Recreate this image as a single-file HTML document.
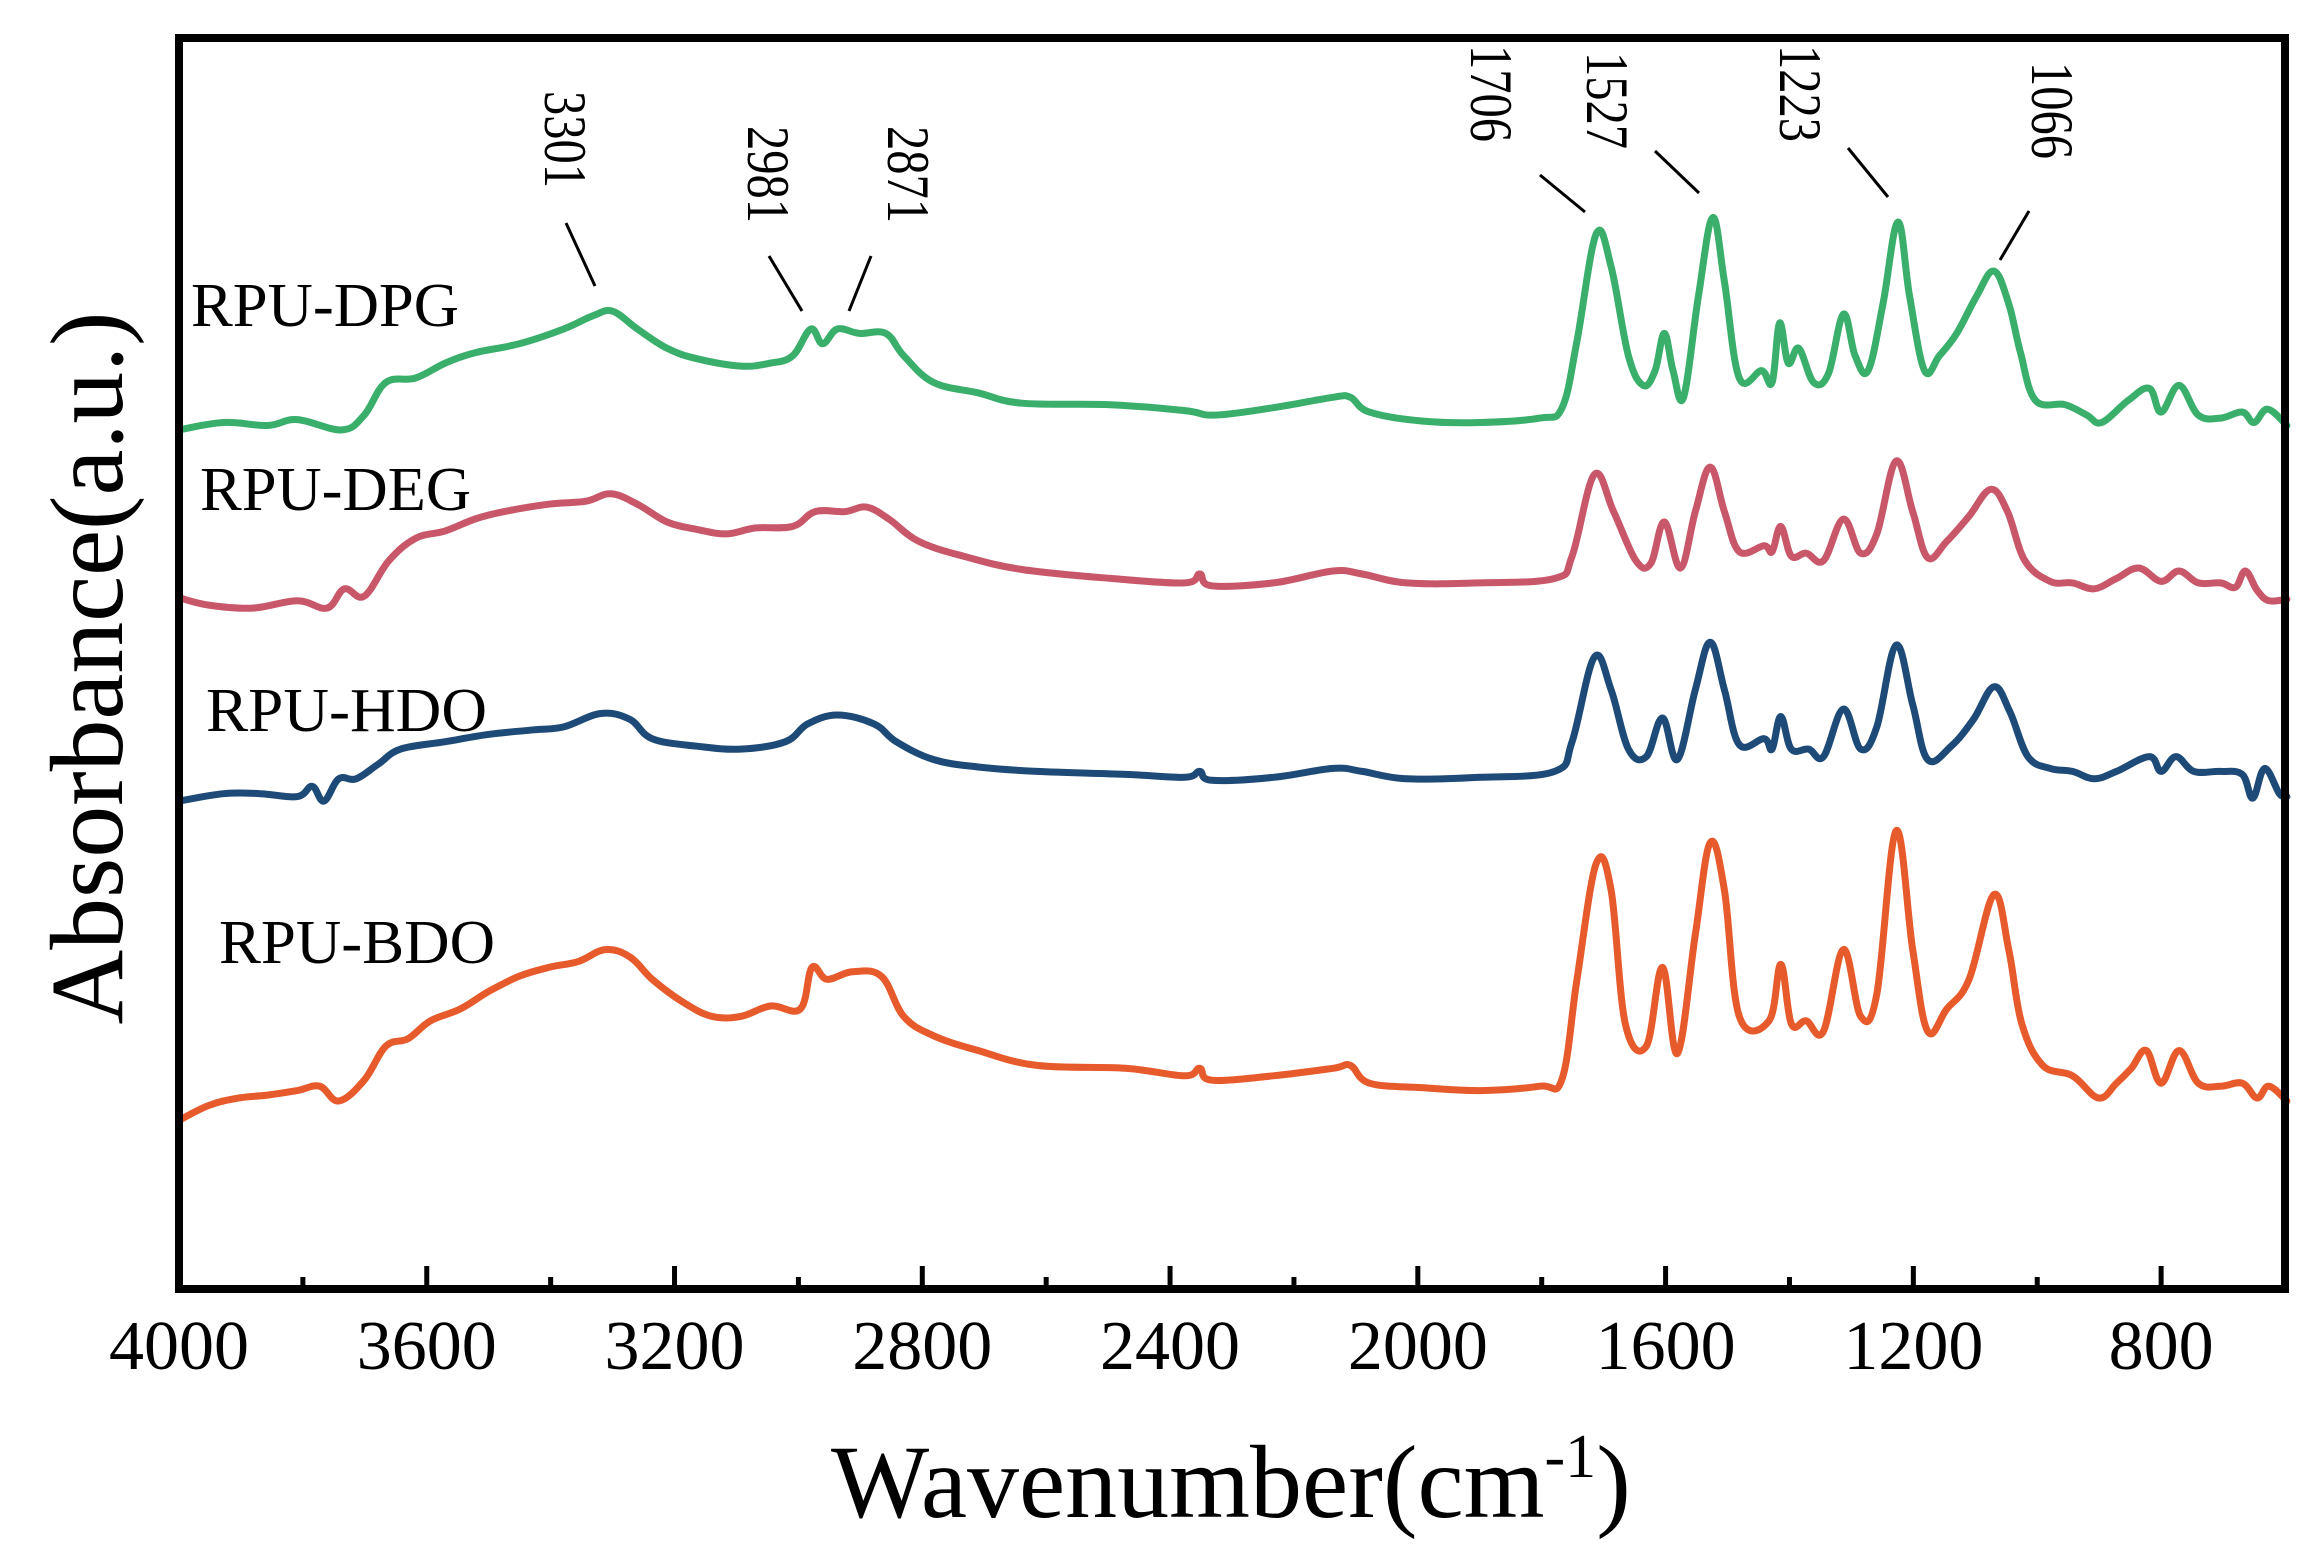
<!DOCTYPE html>
<html><head><meta charset="utf-8">
<style>
html,body{margin:0;padding:0;background:#fff;}
svg{display:block;}
text{font-family:"Liberation Serif","Times New Roman",serif;fill:#000;}
</style></head>
<body>
<svg id="chart" width="2315" height="1564" viewBox="0 0 2315 1564" xmlns="http://www.w3.org/2000/svg">
  <g id="series-layer"></g>
  <rect x="179" y="38" width="2106" height="1251" fill="none" stroke="#000" stroke-width="8"/>
  <g id="tick-layer"></g>
  <text x="831" y="1517" font-size="104">Wavenumber(cm<tspan dy="-40" font-size="62">-1</tspan><tspan dy="40">)</tspan></text>
  <text transform="translate(122,668) rotate(-90)" text-anchor="middle" font-size="104" textLength="713" lengthAdjust="spacingAndGlyphs">Absorbance(a.u.)</text>
  <text x="191" y="326" font-size="62" textLength="268" lengthAdjust="spacingAndGlyphs">RPU-DPG</text>
  <text x="200" y="510" font-size="62" textLength="271" lengthAdjust="spacingAndGlyphs">RPU-DEG</text>
  <text x="206" y="731" font-size="62" textLength="281" lengthAdjust="spacingAndGlyphs">RPU-HDO</text>
  <text x="219" y="963" font-size="62" textLength="276" lengthAdjust="spacingAndGlyphs">RPU-BDO</text>
  <g id="annot-layer"></g>
</svg>
<script>
// ---- axis data ----
const xTicks = [4000, 3600, 3200, 2800, 2400, 2000, 1600, 1200, 800];
const xMinorTicks = [3800, 3400, 3000, 2600, 2200, 1800, 1400, 1000];
const xDomain = [4000, 600];
const yDomain = [0, 8.46];

// ---- series data ----
const dpgWn = [4000,3928,3857,3809,3737,3701,3666,3618,3570,3522,3451,3379,3331,3300,3260,3212,3164,3093,3045,3009,2980,2961,2937,2902,2859,2830,2782,2710,2639,2496,2376,2328,2233,2137,2109,2078,1994,1899,1803,1767,1743,1712,1688,1660,1636,1617,1602,1588,1571,1547,1524,1505,1481,1445,1428,1416,1402,1385,1361,1337,1313,1294,1273,1249,1225,1206,1182,1158,1130,1098,1070,1046,1027,1003,955,920,896,853,819,800,771,740,704,669,650,628,597];
const dpgAbs = [5.82,5.87,5.85,5.89,5.82,5.92,6.14,6.17,6.27,6.34,6.40,6.50,6.59,6.62,6.50,6.37,6.30,6.25,6.27,6.32,6.50,6.40,6.50,6.47,6.47,6.32,6.14,6.07,6.00,5.99,5.95,5.92,5.97,6.04,6.04,5.94,5.88,5.87,5.90,5.97,6.42,7.14,6.92,6.32,6.12,6.22,6.47,6.22,6.04,6.72,7.25,6.82,6.17,6.22,6.14,6.54,6.27,6.37,6.14,6.20,6.60,6.32,6.22,6.67,7.22,6.72,6.22,6.32,6.47,6.72,6.89,6.67,6.34,6.02,5.99,5.92,5.87,6.02,6.10,5.94,6.12,5.92,5.90,5.94,5.87,5.96,5.85];

const degWn = [4000,3952,3881,3809,3761,3733,3701,3661,3618,3570,3522,3475,3403,3343,3303,3260,3212,3164,3116,3069,3009,2973,2925,2890,2854,2806,2734,2639,2496,2376,2352,2333,2233,2137,2090,2018,1899,1779,1751,1715,1684,1648,1624,1602,1576,1552,1528,1505,1481,1441,1428,1414,1397,1373,1345,1313,1285,1259,1228,1201,1177,1146,1110,1075,1048,1020,979,943,908,872,836,800,771,740,704,680,664,645,626,597];
const degAbs = [4.69,4.64,4.62,4.67,4.62,4.75,4.70,4.94,5.09,5.14,5.22,5.27,5.32,5.34,5.39,5.32,5.20,5.15,5.12,5.16,5.17,5.27,5.27,5.30,5.22,5.07,4.97,4.88,4.82,4.79,4.85,4.77,4.79,4.87,4.85,4.79,4.79,4.82,4.97,5.52,5.27,4.94,4.92,5.20,4.89,5.27,5.57,5.27,5.00,5.04,5.00,5.17,4.97,4.99,4.94,5.22,4.99,5.12,5.61,5.27,4.96,5.07,5.24,5.42,5.27,4.94,4.80,4.79,4.75,4.82,4.89,4.80,4.87,4.79,4.79,4.76,4.87,4.74,4.67,4.68];

const hdoWn = [4000,3928,3869,3809,3785,3766,3742,3714,3678,3642,3570,3499,3427,3379,3319,3272,3236,3164,3093,3021,2985,2937,2878,2842,2782,2710,2615,2472,2376,2352,2333,2233,2137,2090,2018,1899,1779,1751,1715,1688,1660,1631,1605,1581,1552,1528,1505,1481,1441,1428,1414,1397,1369,1345,1313,1285,1259,1228,1201,1177,1139,1103,1070,1044,1015,979,943,908,872,819,800,776,747,704,669,652,633,609,597];
const hdoAbs = [3.32,3.37,3.37,3.35,3.42,3.32,3.47,3.47,3.57,3.67,3.72,3.77,3.80,3.82,3.91,3.87,3.74,3.69,3.67,3.72,3.84,3.90,3.84,3.72,3.60,3.55,3.52,3.50,3.48,3.52,3.46,3.48,3.54,3.52,3.47,3.48,3.52,3.72,4.29,4.07,3.67,3.62,3.88,3.60,4.07,4.39,4.07,3.70,3.74,3.67,3.89,3.67,3.67,3.62,3.94,3.67,3.82,4.37,3.97,3.60,3.69,3.87,4.09,3.92,3.62,3.54,3.52,3.47,3.52,3.62,3.52,3.62,3.52,3.52,3.50,3.34,3.54,3.37,3.35];

const bdoWn = [4000,3952,3904,3857,3809,3773,3742,3701,3666,3630,3594,3546,3499,3451,3403,3355,3312,3272,3236,3188,3140,3093,3045,2997,2978,2954,2913,2866,2830,2782,2710,2615,2472,2376,2352,2333,2233,2137,2109,2078,1994,1899,1803,1767,1743,1712,1688,1665,1631,1605,1581,1552,1528,1505,1481,1433,1414,1397,1373,1345,1313,1285,1259,1228,1201,1177,1146,1110,1070,1046,1025,991,943,901,872,848,824,800,771,740,704,669,645,626,597];
const bdoAbs = [1.17,1.27,1.32,1.34,1.37,1.40,1.30,1.44,1.67,1.72,1.84,1.92,2.04,2.14,2.20,2.24,2.32,2.27,2.12,1.97,1.87,1.87,1.94,1.92,2.20,2.12,2.17,2.14,1.87,1.74,1.64,1.54,1.52,1.47,1.52,1.44,1.47,1.52,1.54,1.42,1.39,1.37,1.40,1.45,2.12,2.90,2.72,1.82,1.67,2.20,1.62,2.42,3.04,2.72,1.87,1.84,2.22,1.82,1.84,1.77,2.32,1.87,2.02,3.12,2.32,1.77,1.92,2.12,2.69,2.32,1.82,1.54,1.47,1.32,1.42,1.52,1.64,1.42,1.64,1.42,1.40,1.42,1.32,1.40,1.30];

const peakLabels = ["3301","2981","2871","1706","1527","1223","1066"];

// ---- scales ----
const X0 = 179, X1 = 2285, Y0 = 1294, Y1 = 38;
function xScale(w){ return X0 + (xDomain[0]-w)/(xDomain[0]-xDomain[1])*(X1-X0); }
function yScale(a){ return Y0 - (a-yDomain[0])/(yDomain[1]-yDomain[0])*(Y0-Y1); }

function smoothPath(pts){
  let d = 'M' + pts[0][0].toFixed(1) + ',' + pts[0][1].toFixed(1);
  for(let i=0;i<pts.length-1;i++){
    const p0 = pts[i-1]||pts[i], p1 = pts[i], p2 = pts[i+1], p3 = pts[i+2]||p2;
    const t = 0.18;
    const c1x = p1[0] + (p2[0]-p0[0])*t, c1y = p1[1] + (p2[1]-p0[1])*t;
    const c2x = p2[0] - (p3[0]-p1[0])*t, c2y = p2[1] - (p3[1]-p1[1])*t;
    d += ' C' + c1x.toFixed(1)+','+c1y.toFixed(1)+' '+c2x.toFixed(1)+','+c2y.toFixed(1)+' '+p2[0].toFixed(1)+','+p2[1].toFixed(1);
  }
  return d;
}

const NS = "http://www.w3.org/2000/svg";
const seriesLayer = document.getElementById('series-layer');
const seriesList = [
  {name:'series-rpu-dpg', wn:dpgWn, ab:dpgAbs, color:'#3aae6b'},
  {name:'series-rpu-deg', wn:degWn, ab:degAbs, color:'#c85869'},
  {name:'series-rpu-hdo', wn:hdoWn, ab:hdoAbs, color:'#1e4a77'},
  {name:'series-rpu-bdo', wn:bdoWn, ab:bdoAbs, color:'#e65a2b'}
];
seriesList.forEach(s=>{
  const p = document.createElementNS(NS,'path');
  const n = Math.min(s.wn.length, s.ab.length);
  const pts = [];
  for(let i=0;i<n;i++) pts.push([xScale(s.wn[i]), yScale(s.ab[i])]);
  p.setAttribute('d', smoothPath(pts));
  p.setAttribute('fill','none');
  p.setAttribute('stroke', s.color);
  p.setAttribute('stroke-width','7');
  p.setAttribute('stroke-linejoin','round');
  p.setAttribute('stroke-linecap','round');
  
  
  seriesLayer.appendChild(p);
});

// ---- ticks ----
const tickLayer = document.getElementById('tick-layer');
xTicks.forEach(t=>{
  const x = xScale(t);
  const l = document.createElementNS(NS,'line');
  l.setAttribute('x1',x); l.setAttribute('x2',x);
  l.setAttribute('y1',1289); l.setAttribute('y2',1266);
  l.setAttribute('stroke','#000'); l.setAttribute('stroke-width','5');
  
  
  tickLayer.appendChild(l);
  const tx = document.createElementNS(NS,'text');
  tx.setAttribute('x',x); tx.setAttribute('y',1369);
  tx.setAttribute('text-anchor','middle');
  tx.setAttribute('font-size','70');
  tx.textContent = t;
  
  
  tickLayer.appendChild(tx);
});
xMinorTicks.forEach(t=>{
  const x = xScale(t);
  const l = document.createElementNS(NS,'line');
  l.setAttribute('x1',x); l.setAttribute('x2',x);
  l.setAttribute('y1',1289); l.setAttribute('y2',1277);
  l.setAttribute('stroke','#000'); l.setAttribute('stroke-width','5');
  
  
  tickLayer.appendChild(l);
});

// ---- annotations (layout) ----
const annotLayout = [
  {tx:545, ty:91,  l:[566,223,595,286]},
  {tx:748, ty:126, l:[769,256,802,311]},
  {tx:888, ty:126, l:[871,256,849,311]},
  {tx:1471,ty:45,  l:[1540,175,1585,212]},
  {tx:1587,ty:52,  l:[1655,151,1699,193]},
  {tx:1780,ty:45,  l:[1848,148,1888,197]},
  {tx:2032,ty:62,  l:[2029,211,2000,260]}
];
const annotLayer = document.getElementById('annot-layer');
peakLabels.forEach((lab,i)=>{
  const a = annotLayout[i];
  const t = document.createElementNS(NS,'text');
  t.setAttribute('transform','translate('+a.tx+','+a.ty+') rotate(90)');
  t.setAttribute('font-size','60');
  t.setAttribute('textLength','97');
  t.setAttribute('lengthAdjust','spacingAndGlyphs');
  t.textContent = lab;
  
  
  annotLayer.appendChild(t);
  const l = document.createElementNS(NS,'line');
  l.setAttribute('x1',a.l[0]); l.setAttribute('y1',a.l[1]);
  l.setAttribute('x2',a.l[2]); l.setAttribute('y2',a.l[3]);
  l.setAttribute('stroke','#000'); l.setAttribute('stroke-width','3');
  
  
  annotLayer.appendChild(l);
});
</script>
</body></html>
